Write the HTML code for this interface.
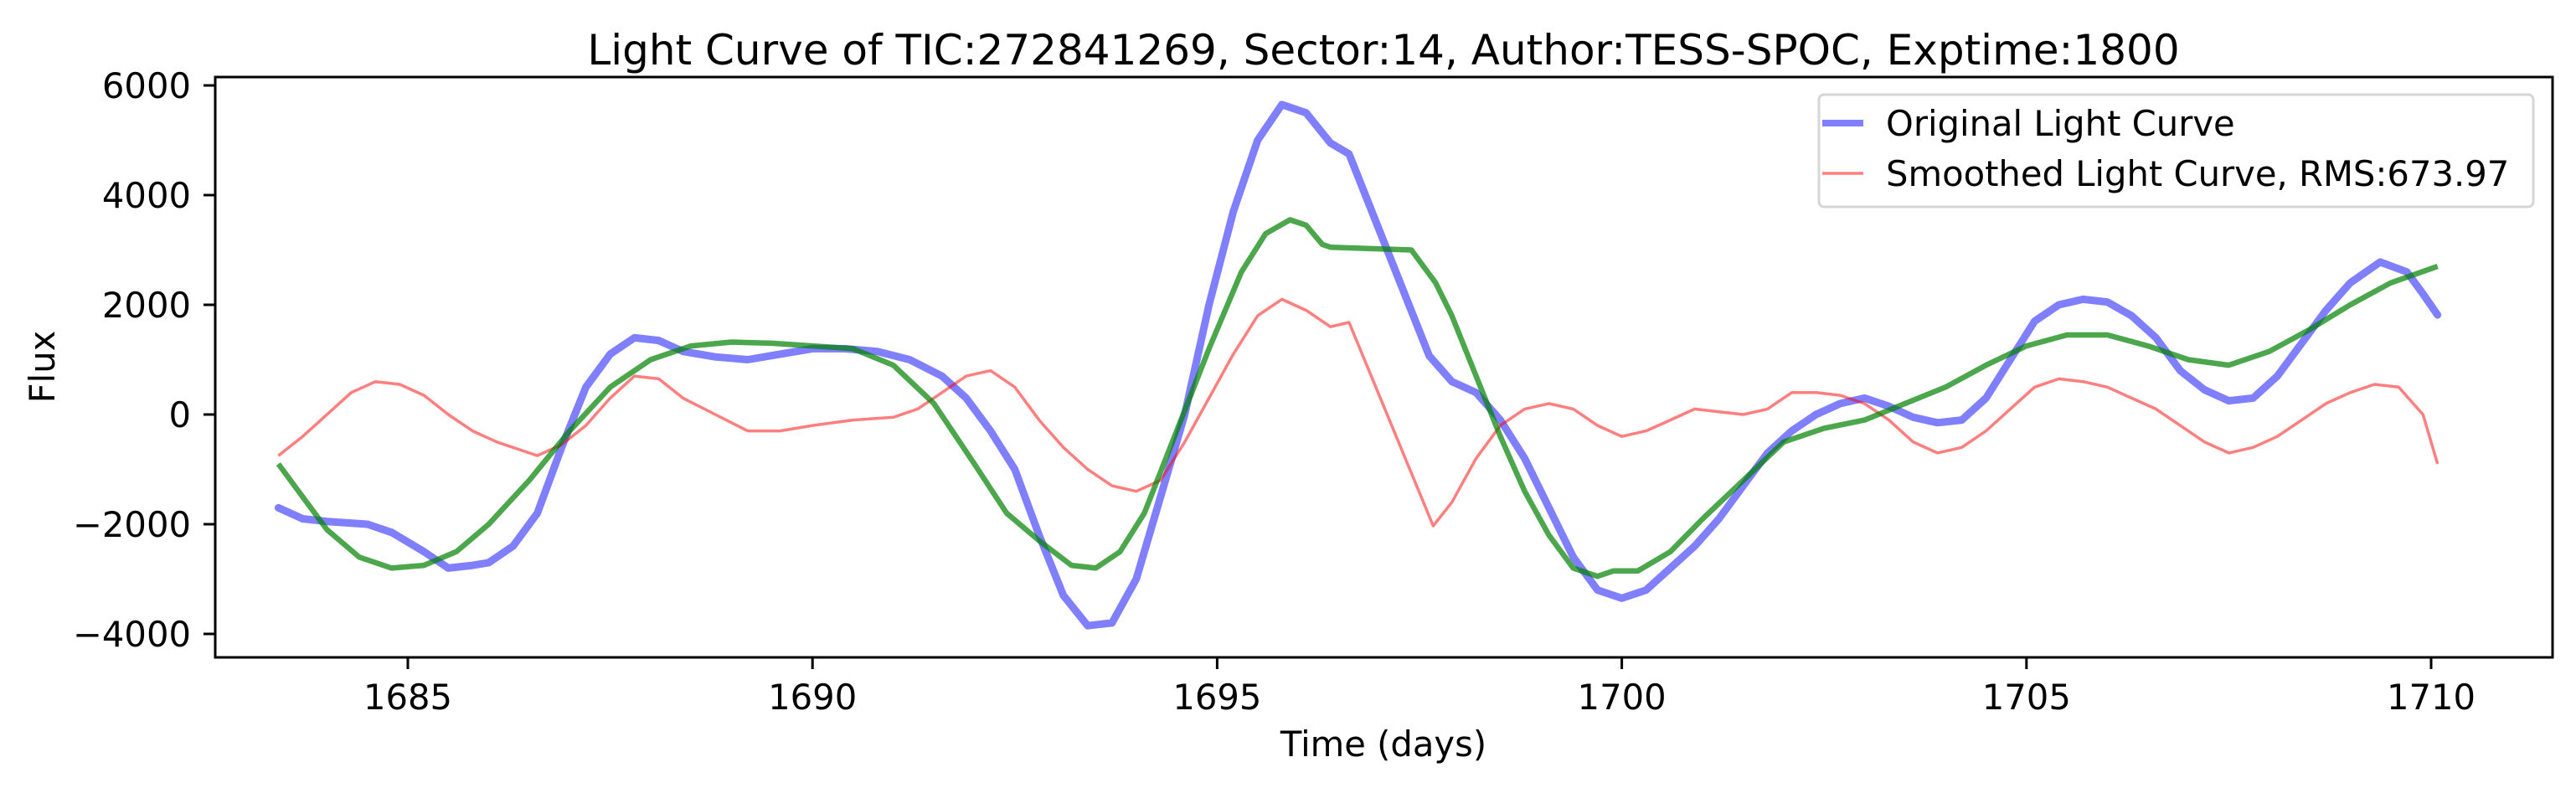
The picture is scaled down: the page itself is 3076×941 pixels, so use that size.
<!DOCTYPE html>
<html><head><meta charset="utf-8"><style>
html,body{margin:0;padding:0;background:#fff;}
svg{display:block;font-family:"DejaVu Sans","Liberation Sans",sans-serif;}
</style></head><body>
<svg id="chart" width="3076" height="941" viewBox="0 0 3076 941" xmlns="http://www.w3.org/2000/svg">
<rect x="0" y="0" width="3076" height="941" fill="#fff"/>
<text x="1652" y="77" font-size="50" text-anchor="middle">Light Curve of TIC:272841269, Sector:14, Author:TESS-SPOC, Exptime:1800</text>
<text x="1652" y="903" font-size="41.7" text-anchor="middle">Time (days)</text>
<text transform="translate(65,438) rotate(-90)" font-size="41.7" text-anchor="middle">Flux</text>
<g id="ticks"></g>
<g id="series"></g>
<rect x="257" y="92" width="2791" height="693" fill="none" stroke="#000" stroke-width="3"/>
<g>
<rect x="2172" y="113" width="853" height="134" rx="6" fill="#fff" fill-opacity="0.8" stroke="#d6d6d6" stroke-width="3"/>
<line x1="2176" y1="147" x2="2225" y2="147" stroke="#0000ff" stroke-opacity="0.5" stroke-width="8"/>
<text x="2252" y="162" font-size="41.7">Original Light Curve</text>
<line x1="2176" y1="207" x2="2225" y2="207" stroke="#ff0000" stroke-opacity="0.5" stroke-width="3.5"/>
<text x="2252" y="222" font-size="41.7">Smoothed Light Curve, RMS:673.97</text>
</g>
</svg>
<script>
const xTicks = [1685, 1690, 1695, 1700, 1705, 1710];
const yTicks = [-4000, -2000, 0, 2000, 4000, 6000];
const origT = [1683.4,1683.7,1684.0,1684.5,1684.8,1685.2,1685.5,1685.8,1686.0,1686.3,1686.6,1686.9,1687.2,1687.5,1687.8,1688.1,1688.4,1688.8,1689.2,1689.6,1690.0,1690.4,1690.8,1691.2,1691.6,1691.9,1692.2,1692.5,1692.8,1693.1,1693.4,1693.7,1694.0,1694.3,1694.6,1694.9,1695.2,1695.5,1695.8,1696.1,1696.4,1696.63,1697.62,1697.9,1698.2,1698.5,1698.8,1699.1,1699.4,1699.7,1700.0,1700.3,1700.6,1700.9,1701.2,1701.5,1701.8,1702.1,1702.4,1702.7,1703.0,1703.3,1703.6,1703.9,1704.2,1704.5,1704.8,1705.1,1705.4,1705.7,1706.0,1706.3,1706.6,1706.9,1707.2,1707.5,1707.8,1708.1,1708.4,1708.7,1709.0,1709.37,1709.7,1709.9,1710.08];
const origF = [-1700,-1900,-1950,-2000,-2150,-2500,-2800,-2750,-2700,-2400,-1800,-600,500,1100,1400,1350,1150,1050,1000,1100,1200,1200,1150,1000,700,300,-300,-1000,-2200,-3300,-3850,-3800,-3000,-1500,0,2000,3700,5000,5650,5500,4950,4750,1070,600,400,-100,-800,-1700,-2600,-3200,-3350,-3200,-2800,-2400,-1900,-1300,-700,-300,0,200,300,150,-50,-150,-100,300,1000,1700,2000,2100,2050,1800,1400,800,450,250,300,700,1300,1900,2400,2780,2600,2200,1815];
const smoothT = [1683.4,1683.7,1684.0,1684.3,1684.6,1684.9,1685.2,1685.5,1685.8,1686.1,1686.4,1686.6,1686.9,1687.2,1687.5,1687.8,1688.1,1688.4,1688.8,1689.2,1689.6,1690.0,1690.5,1691.0,1691.3,1691.6,1691.9,1692.2,1692.5,1692.8,1693.1,1693.4,1693.7,1694.0,1694.3,1694.6,1694.9,1695.2,1695.5,1695.8,1696.1,1696.4,1696.63,1697.67,1697.9,1698.2,1698.5,1698.8,1699.1,1699.4,1699.7,1700.0,1700.3,1700.6,1700.9,1701.2,1701.5,1701.8,1702.1,1702.4,1702.7,1703.0,1703.3,1703.6,1703.9,1704.2,1704.5,1704.8,1705.1,1705.4,1705.7,1706.0,1706.3,1706.6,1706.9,1707.2,1707.5,1707.8,1708.1,1708.4,1708.7,1709.0,1709.3,1709.6,1709.9,1710.08];
const smoothF = [-750,-400,0,400,600,550,350,0,-300,-500,-650,-750,-550,-200,300,700,650,300,0,-300,-300,-200,-100,-50,100,400,700,800,500,-100,-600,-1000,-1300,-1400,-1200,-500,300,1100,1800,2100,1900,1600,1680,-2030,-1600,-800,-200,100,200,100,-200,-400,-300,-100,100,50,0,100,400,400,350,200,-100,-500,-700,-600,-300,100,500,650,600,500,300,100,-200,-500,-700,-600,-400,-100,200,400,550,500,0,-900];
const fitT = [1683.4,1683.7,1684.0,1684.4,1684.8,1685.2,1685.6,1686.0,1686.5,1687.0,1687.5,1688.0,1688.5,1689.0,1689.5,1690.0,1690.5,1691.0,1691.5,1692.0,1692.4,1692.8,1693.2,1693.5,1693.8,1694.1,1694.5,1694.9,1695.3,1695.6,1695.9,1696.1,1696.3,1696.4,1697.4,1697.7,1697.9,1698.2,1698.5,1698.8,1699.1,1699.4,1699.7,1699.9,1700.2,1700.6,1701.0,1701.5,1702.0,1702.5,1703.0,1703.5,1704.0,1704.5,1705.0,1705.5,1706.0,1706.5,1707.0,1707.5,1708.0,1708.5,1709.0,1709.5,1710.08];
const fitF = [-900,-1500,-2100,-2600,-2800,-2750,-2500,-2000,-1200,-300,500,1000,1250,1320,1300,1250,1200,900,200,-900,-1800,-2300,-2750,-2800,-2500,-1800,-300,1200,2600,3300,3550,3450,3100,3050,3000,2400,1800,700,-400,-1400,-2200,-2800,-2950,-2850,-2850,-2500,-1900,-1200,-500,-250,-100,200,500,900,1250,1450,1450,1250,1000,900,1150,1550,2000,2400,2700];

const NS = 'http://www.w3.org/2000/svg';
function xs(t){ return 487 + (t - 1685) * 96.64; }
function ys(v){ return 495 - v * 0.0655; }
const tickG = document.getElementById('ticks');
const serG = document.getElementById('series');
function mk(tag, attrs, parent){ const e = document.createElementNS(NS, tag); for (const k in attrs) e.setAttribute(k, attrs[k]); parent.appendChild(e); return e; }

xTicks.forEach(t => {
  const l = mk('line', {x1: xs(t), x2: xs(t), y1: 785, y2: 799, stroke: '#000', 'stroke-width': 3}, tickG);
  
  
  const tx = mk('text', {x: xs(t), y: 847, 'font-size': 41.7, 'text-anchor': 'middle'}, tickG);
  tx.textContent = String(t);
  
  
});
yTicks.forEach(v => {
  const l = mk('line', {x1: 243, x2: 257, y1: ys(v), y2: ys(v), stroke: '#000', 'stroke-width': 3}, tickG);
  
  
  const tx = mk('text', {x: 228, y: ys(v) + 15, 'font-size': 41.7, 'text-anchor': 'end'}, tickG);
  tx.textContent = String(v).replace('-', '\u2212');
  
  
});
function pathD(T, F){ return T.map((t, i) => (i ? 'L' : 'M') + xs(t).toFixed(1) + ' ' + ys(F[i]).toFixed(1)).join(' '); }
const p1 = mk('path', {d: pathD(origT, origF), fill: 'none', stroke: '#0000ff', 'stroke-opacity': 0.5, 'stroke-width': 9, 'stroke-linejoin': 'round', 'stroke-linecap': 'round'}, serG);


const p2 = mk('path', {d: pathD(smoothT, smoothF), fill: 'none', stroke: '#ff0000', 'stroke-opacity': 0.5, 'stroke-width': 3.5, 'stroke-linejoin': 'round'}, serG);


const p3 = mk('path', {d: pathD(fitT, fitF), fill: 'none', stroke: '#008000', 'stroke-opacity': 0.7, 'stroke-width': 6.5, 'stroke-linejoin': 'round'}, serG);


</script>
</body></html>
